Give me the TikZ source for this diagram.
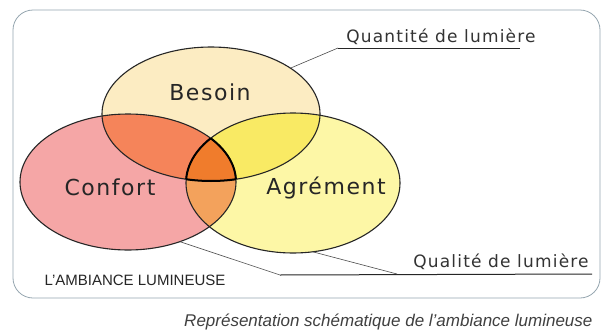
\documentclass[tikz,border=0pt]{standalone}
\usepackage{fontspec}
\setmainfont{Liberation Sans}
\newfontfamily\hand[LetterSpace=7]{DejaVu Sans}
\usetikzlibrary{shapes}

\definecolor{besoincol}{RGB}{252,236,194}
\definecolor{confortcol}{RGB}{245,166,166}
\definecolor{agrementcol}{RGB}{253,247,166}
\definecolor{bccol}{RGB}{245,132,90}
\definecolor{bacol}{RGB}{249,234,100}
\definecolor{cacol}{RGB}{243,162,92}
\definecolor{bcacol}{RGB}{240,124,44}
\definecolor{framecol}{RGB}{150,166,176}

\newcommand{\besoinshape}{(211,114) ellipse [x radius=109, y radius=67]}
\newcommand{\confortshape}{(128,182) ellipse [x radius=108, y radius=68]}
\newcommand{\agrementshape}{(293,183) ellipse [x radius=107, y radius=70]}

\begin{document}
\begin{tikzpicture}[x=1pt,y=-1pt]
    \tikzstyle{set}=[ellipse, draw=black!85, line width=1.1pt, inner sep=0pt, outer sep=0pt]
    \tikzstyle{hand}=[font=\hand\fontsize{22}{26}\selectfont, text=black!85]
    \tikzstyle{note}=[font=\hand\fontsize{17}{20}\selectfont, text=black!80]
    \tikzstyle{leader}=[draw=black!70, line width=0.6pt]
    \tikzstyle{underline}=[draw=black!85, line width=1pt]

    \path[fill=white, use as bounding box] (0,0) rectangle (606,335);
    \draw[framecol, line width=0.8pt, rounded corners=20pt] (13,10) rectangle (600,298);

    \fill[besoincol] \besoinshape;
    \fill[confortcol] \confortshape;
    \fill[agrementcol] \agrementshape;
    \begin{scope}
        \clip \confortshape;
        \fill[cacol] \agrementshape;
    \end{scope}
    \begin{scope}
        \clip \besoinshape;
        \fill[bccol] \confortshape;
        \fill[bacol] \agrementshape;
        \clip \confortshape;
        \fill[bcacol] \agrementshape;
    \end{scope}

    \node[set, minimum width=218pt, minimum height=134pt] (besoin) at (211,114) {};
    \node[set, minimum width=216pt, minimum height=136pt] (confort) at (128,182) {};
    \node[set, minimum width=214pt, minimum height=140pt] (agrement) at (293,183) {};

    \begin{scope}
        \clip \besoinshape;
        \clip \confortshape;
        \draw[black, line width=2pt] \agrementshape;
    \end{scope}
    \begin{scope}
        \clip \besoinshape;
        \clip \agrementshape;
        \draw[black, line width=2pt] \confortshape;
    \end{scope}
    \begin{scope}
        \clip \confortshape;
        \clip \agrementshape;
        \draw[black, line width=2pt] \besoinshape;
    \end{scope}

    \node[hand] (besoin label) at (210,92) {Besoin};
    \node[hand] (confort label) at (110,187) {Confort};
    \node[hand] (agrement label) at (326,188) {Agrément};

    \node[note] (quantite) at (441,37) {Quantité de lumière};
    \node[note] (qualite) at (501,262) {Qualité de lumière};
    \node[font=\fontsize{15}{18}\selectfont, text=black!85] (ambiance) at (135,280) {L'AMBIANCE LUMINEUSE};
    \node[font=\itshape\fontsize{17}{20}\selectfont, text=black!75, anchor=east] (legende) at (596,322) {Représentation schématique de l'ambiance lumineuse};

    \coordinate (quantite tip) at (338,48);
    \coordinate (quantite end) at (520,48);
    \coordinate (qualite tip) at (280,275);
    \coordinate (qualite join) at (397,274);
    \coordinate (qualite end) at (592,274);

    \draw[leader] (besoin.30) -- (quantite tip);
    \draw[underline] (quantite tip) -- (quantite end);
    \draw[leader] (confort.-49) -- (qualite tip);
    \draw[underline] (qualite tip) -- (qualite end);
    \draw[leader] (agrement.-74) -- (qualite join);
\end{tikzpicture}
\end{document}
